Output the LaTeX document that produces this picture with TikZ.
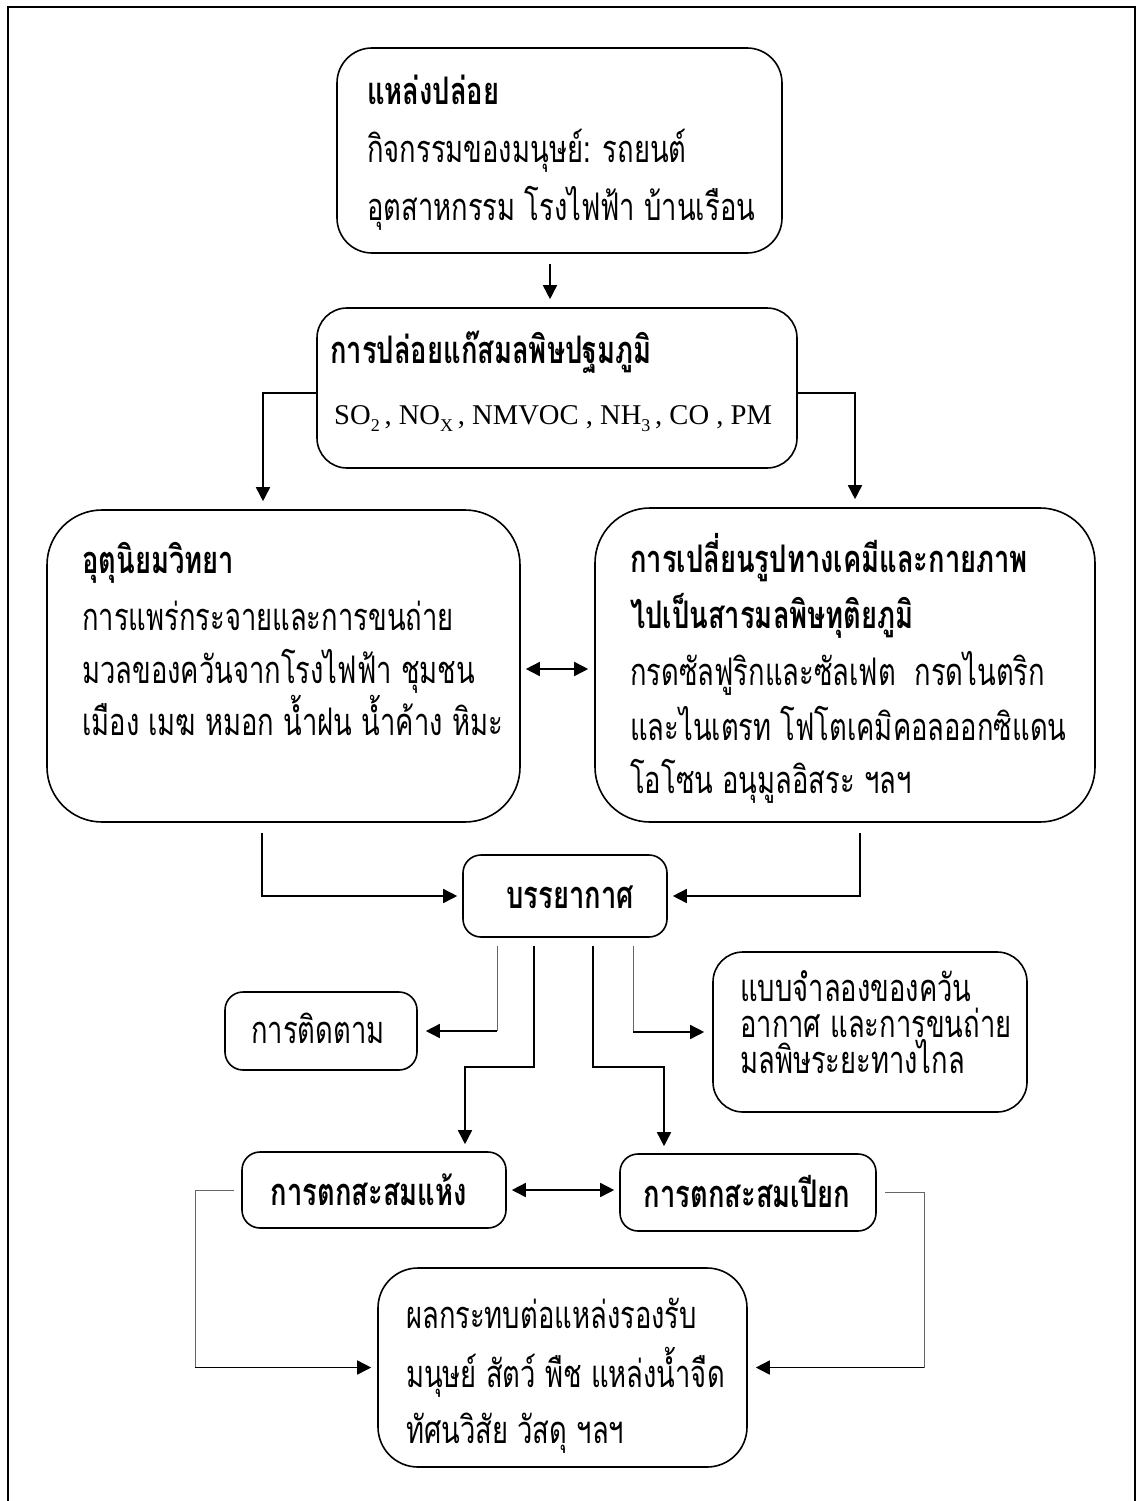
\documentclass[tikz,border=0pt]{standalone}
\usepackage{fontspec}
\usetikzlibrary{arrows.meta}
\newfontfamily\thai[Script=Thai, FakeStretch=0.72]{Loma}
\newfontfamily\latn{Liberation Serif}
\newcommand\bodyfont{\thai\fontsize{38}{46}\selectfont}
\newcommand\headfont{\thai\bfseries\fontsize{38}{46}\selectfont}
\newcommand\sbs[1]{\raisebox{-7pt}{\fontsize{18}{18}\selectfont #1}}

\begin{document}
\begin{tikzpicture}[x=1pt,y=-1pt,
  box/.style={draw, line width=1.6pt, rounded corners=#1, inner sep=0pt},
  box/.default=20pt,
  txt/.style={inner sep=0pt, anchor=base west, font=\bodyfont},
  head/.style={inner sep=0pt, anchor=base west, font=\headfont},
  conn/.style={line width=1.6pt, -{Triangle[length=14pt,width=14pt]}},
  dbl/.style={line width=1.6pt, {Triangle[length=14pt,width=14pt]}-{Triangle[length=14pt,width=14pt]}},
  thinline/.style={line width=1pt, draw=black!60}
]
\useasboundingbox (0,0) rectangle (1137,1501);

% outer frame, open at the bottom
\draw[line width=2.5pt] (8,1501) -- (8,7) -- (1135,7) -- (1135,1501);

% ---------- boxes ----------
\node[box=35pt, minimum width=445pt, minimum height=205pt] (b1) at (559.5,150.5) {};
\node[box=30pt, minimum width=480pt, minimum height=160pt] (b2) at (557,388) {};
\node[box=55pt, minimum width=473pt, minimum height=312pt] (b3) at (283.5,666) {};
\node[box=55pt, minimum width=500pt, minimum height=314pt] (b4) at (845,665) {};
\node[box=18pt, minimum width=204pt, minimum height=82pt] (b5) at (565,896) {};
\node[box=18pt, minimum width=192pt, minimum height=78pt] (b6) at (321,1031) {};
\node[box=30pt, minimum width=314pt, minimum height=160pt] (b7) at (870,1032) {};
\node[box=18pt, minimum width=264pt, minimum height=76pt] (b8) at (374,1190) {};
\node[box=18pt, minimum width=256pt, minimum height=77pt] (b9) at (748,1192.5) {};
\node[box=40pt, minimum width=369pt, minimum height=199pt] (b10) at (562.5,1367.5) {};

% ---------- texts ----------
\node[head] (t1a) at (367,105) {แหล่งปล่อย};
\node[txt]  (t1b) at (367,162) {กิจกรรมของมนุษย์: รถยนต์};
\node[txt]  (t1c) at (367,220) {อุตสาหกรรม โรงไฟฟ้า บ้านเรือน};

\node[head] (t2a) at (330,363) {การปล่อยแก๊สมลพิษปฐมภูมิ};
\node[txt, font=\latn\fontsize{28.6}{34}\selectfont] (t2b) at (334,424)
  {SO\sbs{2}\,, NO\sbs{X}\,, NMVOC , NH\sbs{3}\,, CO , PM};

\node[head] (t3a) at (82,573) {อุตุนิยมวิทยา};
\node[txt]  (t3b) at (82,630) {การแพร่กระจายและการขนถ่าย};
\node[txt]  (t3c) at (82,683) {มวลของควันจากโรงไฟฟ้า ชุมชน};
\node[txt]  (t3d) at (82,735) {เมือง เมฆ หมอก น้ำฝน น้ำค้าง หิมะ};

\node[head] (t4a) at (630,572) {การเปลี่ยนรูปทางเคมีและกายภาพ};
\node[head] (t4b) at (630,628) {ไปเป็นสารมลพิษทุติยภูมิ};
\node[txt]  (t4c) at (630,685) {กรดซัลฟูริกและซัลเฟต\ \ กรดไนตริก};
\node[txt]  (t4d) at (630,740) {และไนเตรท โฟโตเคมิคอลออกซิแดน};
\node[txt]  (t4e) at (630,793) {โอโซน อนุมูลอิสระ ฯลฯ};

\node[head, anchor=base] (t5) at (570,908) {บรรยากาศ};
\node[txt]  (t6) at (251,1043) {การติดตาม};

\node[txt]  (t7a) at (740,1001) {แบบจำลองของควัน};
\node[txt]  (t7b) at (740,1037) {อากาศ และการขนถ่าย};
\node[txt]  (t7c) at (740,1073) {มลพิษระยะทางไกล};

\node[head, anchor=base] (t8) at (369,1205) {การตกสะสมแห้ง};
\node[head, anchor=base] (t9) at (747,1207) {การตกสะสมเปียก};

\node[txt]  (t10a) at (406,1328) {ผลกระทบต่อแหล่งรองรับ};
\node[txt]  (t10b) at (406,1387) {มนุษย์ สัตว์ พืช แหล่งน้ำจืด};
\node[txt]  (t10c) at (406,1443) {ทัศนวิสัย วัสดุ ฯลฯ};

% ---------- connectors ----------
\coordinate (A)  at (550,0);
\coordinate (L1) at (263,393);
\coordinate (R1) at (855,393);
\coordinate (D1) at (0,669);
\coordinate (L2) at (262,0);
\coordinate (R2) at (860,0);
\coordinate (Xa) at (497,0);
\coordinate (B1) at (534,1067);
\coordinate (B2) at (465,1067);
\coordinate (C1) at (593,1067);
\coordinate (C2) at (664,1067);
\coordinate (Xd) at (633,0);
\coordinate (BL) at (195,1367.5);
\coordinate (BR) at (924,1367.5);

\draw[conn, shorten <=10pt, shorten >=8pt] (b1.south -| A) -- (b2.north -| A);
\draw[conn, shorten >=8pt] (b2.west |- L1) -| (b3.north -| L1);
\draw[conn, shorten >=8pt] (b2.east |- R1) -| (b4.north -| R1);
\draw[dbl, shorten <=5pt, shorten >=6pt] (b3.east |- D1) -- (b4.west |- D1);

\draw[conn, shorten >=5pt] ([yshift=-10pt]b3.south -| L2) |- (b5.west);
\draw[conn, shorten >=5pt] ([yshift=-10pt]b4.south -| R2) |- (b5.east);

% from the atmosphere box downwards
\draw[thinline] ([yshift=-8pt]b5.south -| Xa) -- (Xa |- b6.east);
\draw[conn, shorten >=8pt] (Xa |- b6.east) -- (b6.east);
\draw[conn, shorten <=8pt, shorten >=7pt] (b5.south -| B1) -- (B1) -- (B2) -- (b8.north -| B2);
\draw[conn, shorten <=8pt, shorten >=7pt] (b5.south -| C1) -- (C1) -- (C2) -- (b9.north -| C2);
\draw[thinline] ([yshift=-8pt]b5.south -| Xd) -- (Xd |- b7.west);
\draw[conn, shorten >=8pt] (Xd |- b7.west) -- (b7.west);

\draw[dbl, shorten <=5pt, shorten >=5pt] (b8.east) -- (b9.west |- b8.east);

% deposition to receptors
\draw[thinline] ([xshift=-7pt]b8.west) -| (BL);
\draw[conn, shorten >=6pt] (BL) -- (b10.west);
\draw[thinline] ([xshift=8pt]b9.east) -| (BR);
\draw[conn, shorten >=8pt] (BR) -- (b10.east);
\end{tikzpicture}
\end{document}
